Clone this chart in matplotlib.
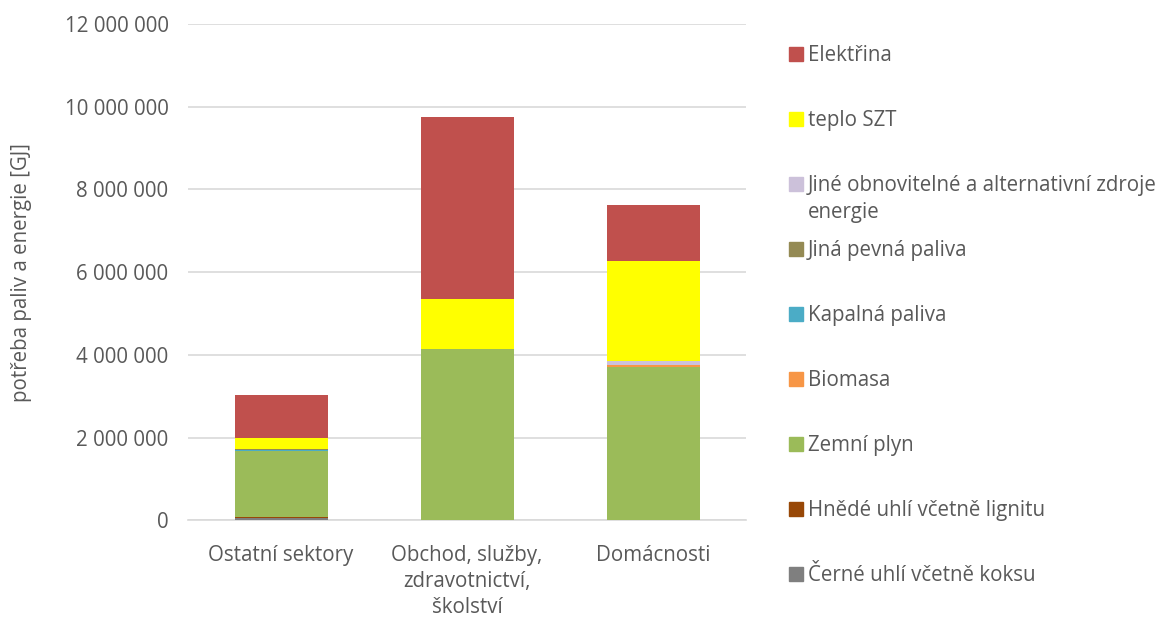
import matplotlib.pyplot as plt
from matplotlib.patches import Rectangle
from matplotlib.ticker import FuncFormatter

plt.rcParams['font.family'] = ['Open Sans', 'DejaVu Sans']

# kategorie a hodnoty [GJ]
sectors = ['Ostatní sektory', 'Obchod, služby,\nzdravotnictví,\nškolství', 'Domácnosti']
fuels = ['Černé uhlí včetně koksu', 'Hnědé uhlí včetně lignitu', 'Zemní plyn', 'Biomasa',
         'Kapalná paliva', 'Jiná pevná paliva',
         'Jiné obnovitelné a alternativní zdroje\nenergie', 'teplo SZT', 'Elektřina']
colors = ['#7F7F7F', '#984807', '#9BBB59', '#F79646', '#4BACC6', '#948A54',
          '#CCC1DA', '#FFFF00', '#C0504D']

cerne_uhli = [70000, 0, 0]
hnede_uhli = [5000, 0, 5000]
zemni_plyn = [1610000, 4140000, 3710000]
biomasa = [0, 0, 45000]
kapalna = [25000, 0, 0]
jina_pevna = [25000, 0, 0]
jine_oze = [0, 0, 100000]
teplo_szt = [260000, 1210000, 2400000]
elektrina = [1040000, 4410000, 1370000]
series = [cerne_uhli, hnede_uhli, zemni_plyn, biomasa, kapalna, jina_pevna,
          jine_oze, teplo_szt, elektrina]

W, H = 1171, 620
FS = 14.8
GREY = '#595959'
fig = plt.figure(figsize=(W / 100, H / 100), dpi=100)
ax = fig.add_axes([188 / W, 1 - 520.4 / H, (746 - 188) / W, (520.4 - 24) / H])

x = range(len(sectors))
bottom = [0, 0, 0]
for vals, c in zip(series, colors):
    ax.bar(x, vals, width=0.5, bottom=bottom, color=c, linewidth=0, zorder=3)
    bottom = [b + v for b, v in zip(bottom, vals)]

ax.set_xlim(-0.5, 2.5)
ax.set_ylim(0, 12000000)
ax.set_yticks(range(0, 12000001, 2000000))
ax.yaxis.set_major_formatter(FuncFormatter(lambda v, p: f'{int(v):,}'.replace(',', ' ')))
ax.set_xticks(list(x))
ax.set_xticklabels(sectors, linespacing=1.3)
ax.grid(axis='y', color='#D9D9D9', linewidth=1.2, zorder=0)
for s in ['top', 'right', 'left']:
    ax.spines[s].set_visible(False)
ax.spines['bottom'].set_color('#D9D9D9')
ax.spines['bottom'].set_linewidth(1.2)
ax.tick_params(length=0, labelsize=FS, labelcolor=GREY)
ax.tick_params(axis='y', pad=14)
ax.tick_params(axis='x', pad=18)
ax.set_ylabel('potřeba paliv a energie [GJ]', fontsize=FS, color=GREY)
ax.yaxis.set_label_coords(-0.279, 0.5)

# legenda (shora dolů)
for i, (lab, c) in enumerate(zip(fuels[::-1], colors[::-1])):
    yc = 54 + 65 * i
    fig.patches.append(Rectangle((789 / W, 1 - (yc + 7) / H), 14 / W, 14 / H,
                                 transform=fig.transFigure, color=c))
    for j, line in enumerate(lab.split('\n')):
        fig.text(808 / W, 1 - (yc + 7 + 27 * j) / H, line, fontsize=FS, color=GREY,
                 va='baseline', ha='left')

fig.savefig('out.png', dpi=100)
